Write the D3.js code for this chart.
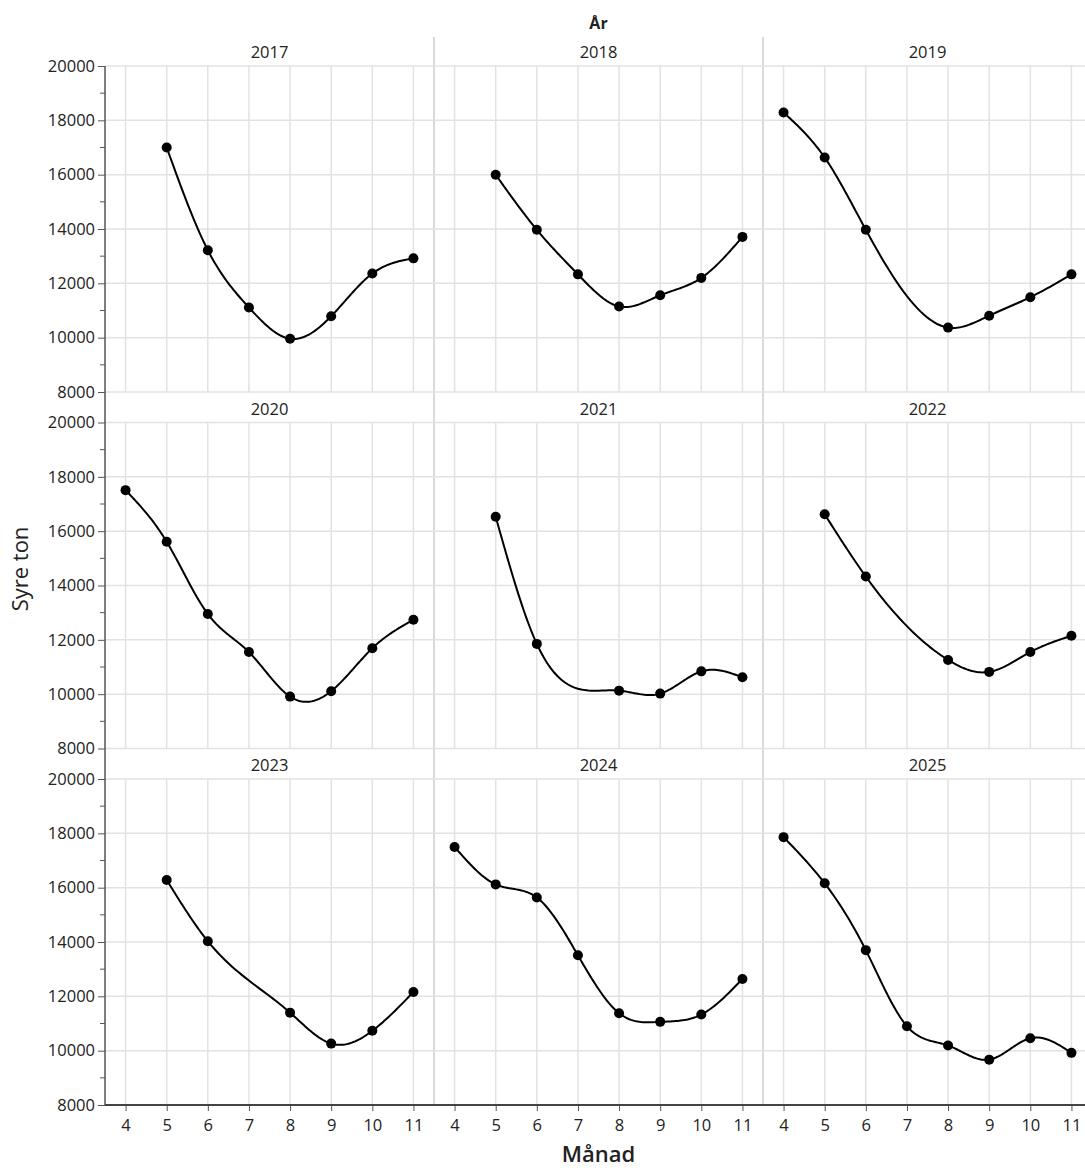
<!DOCTYPE html>
<html>
<head>
<meta charset="utf-8">
<script src="https://cdn.jsdelivr.net/npm/d3@7"></script>
<style>
  html, body { margin: 0; padding: 0; background: #fff; }
  svg { display: block; font-family: "Open Sans", "Noto Sans", sans-serif; }
</style>
</head>
<body>
<svg id="chart" width="1085" height="1171"></svg>
<script>
// ---- data (Syre ton per month, null = no value) ----
const years = [2017, 2018, 2019, 2020, 2021, 2022, 2023, 2024, 2025];
const months = [4, 5, 6, 7, 8, 9, 10, 11];
const yTicks = [8000, 10000, 12000, 14000, 16000, 18000, 20000];
const syre2017 = [null, 17000, 13220, 11110, 9960, 10790, 12360, 12920];
const syre2018 = [null, 16000, 13970, 12330, 11150, 11560, 12200, 13710];
const syre2019 = [18290, 16630, 13970, null, 10370, 10810, 11490, 12330];
const syre2020 = [17510, 15610, 12950, 11550, 9910, 10110, 11690, 12740];
const syre2021 = [null, 16530, 11850, null, 10130, 10020, 10840, 10620];
const syre2022 = [null, 16620, 14330, null, 11260, 10820, 11550, 12150];
const syre2023 = [null, 16280, 14030, null, 11400, 10260, 10730, 12160];
const syre2024 = [17500, 16120, 15640, 13510, 11380, 11060, 11330, 12640];
const syre2025 = [17860, 16160, 13700, 10900, 10190, 9670, 10460, 9920];
const seriesByYear = [syre2017, syre2018, syre2019, syre2020, syre2021, syre2022, syre2023, syre2024, syre2025];

// ---- layout ----
const svg = d3.select("#chart");
const colX = [105, 434, 763];
const panelW = 329;
const rowY = [66, 422.5, 779];
const panelH = 326;
const gridColor = "#e2e2e2";
const axisColor = "#555";

const x = d3.scaleLinear().domain([3.5, 11.5]).range([0, panelW]);
const y = d3.scaleLinear().domain([8000, 20000]).range([panelH, 0]);
const minorTicks = d3.range(9000, 20000, 2000);

// natural cubic spline in data space (x = month), sampled for drawing
function naturalSpline(pts, steps) {
  const n = pts.length;
  if (n < 3) return pts.slice();
  const xs = pts.map(d => d.m), ys = pts.map(d => d.v);
  const h = d3.range(n - 1).map(i => xs[i + 1] - xs[i]);
  const M = new Array(n).fill(0);
  const m = n - 2;
  const a = [], b = [], c = [], r = [];
  for (let i = 1; i <= m; i++) {
    a.push(h[i - 1]);
    b.push(2 * (h[i - 1] + h[i]));
    c.push(h[i]);
    r.push(6 * ((ys[i + 1] - ys[i]) / h[i] - (ys[i] - ys[i - 1]) / h[i - 1]));
  }
  const cp = [], dp = [];
  for (let i = 0; i < m; i++) {
    const den = b[i] - (i > 0 ? a[i] * cp[i - 1] : 0);
    cp[i] = c[i] / den;
    dp[i] = (r[i] - (i > 0 ? a[i] * dp[i - 1] : 0)) / den;
  }
  for (let i = m - 1; i >= 0; i--) {
    M[i + 1] = dp[i] - (i < m - 1 ? cp[i] * M[i + 2] : 0);
  }
  const out = [];
  for (let i = 0; i < n - 1; i++) {
    const hi = h[i];
    for (let s = 0; s < steps; s++) {
      const xv = xs[i] + hi * s / steps;
      const A = xs[i + 1] - xv, B = xv - xs[i];
      const v = M[i] * A * A * A / (6 * hi) + M[i + 1] * B * B * B / (6 * hi)
        + (ys[i] / hi - M[i] * hi / 6) * A + (ys[i + 1] / hi - M[i + 1] * hi / 6) * B;
      out.push({ m: xv, v });
    }
  }
  out.push(pts[n - 1]);
  return out;
}

const line = d3.line().x(d => x(d.m)).y(d => y(d.v));

// title
svg.append("text")
  .attr("x", (colX[0] + colX[2] + panelW) / 2).attr("y", 29)
  .attr("text-anchor", "middle")
  .attr("font-size", 16).attr("font-weight", 700).attr("fill", "#222")
  .text("År");

// vertical dividers between columns
[colX[1], colX[2]].forEach(cx => {
  svg.append("line")
    .attr("x1", cx).attr("x2", cx).attr("y1", 37).attr("y2", rowY[2] + panelH)
    .attr("stroke", "#d9d9d9").attr("stroke-width", 2);
});

years.forEach((yr, i) => {
  const r = Math.floor(i / 3), c = i % 3;
  const g = svg.append("g").attr("transform", `translate(${colX[c]},${rowY[r]})`);

  // grid
  g.append("g").selectAll("line").data(yTicks).join("line")
    .attr("x1", 0).attr("x2", panelW)
    .attr("y1", d => y(d)).attr("y2", d => y(d))
    .attr("stroke", gridColor).attr("stroke-width", 1.5);
  g.append("g").selectAll("line").data(months).join("line")
    .attr("x1", d => x(d)).attr("x2", d => x(d))
    .attr("y1", 0).attr("y2", panelH)
    .attr("stroke", gridColor).attr("stroke-width", 1.5);

  // strip label
  g.append("text")
    .attr("x", panelW / 2).attr("y", -8)
    .attr("text-anchor", "middle")
    .attr("font-size", 16.5).attr("fill", "#222")
    .text(yr);

  // data
  const pts = months.map((m, k) => ({ m, v: seriesByYear[i][k] })).filter(d => d.v != null);
  g.append("path").datum(naturalSpline(pts, 24))
    .attr("d", line).attr("fill", "none")
    .attr("stroke", "#000").attr("stroke-width", 2);
  g.append("g").selectAll("circle").data(pts).join("circle")
    .attr("cx", d => x(d.m)).attr("cy", d => y(d.v)).attr("r", 5)
    .attr("fill", "#000");

  // y axis on left column
  if (c === 0) {
    const ax = g.append("g").call(
      d3.axisLeft(y).tickValues(yTicks).tickSize(7).tickPadding(3).tickFormat(d3.format("d"))
    );
    ax.select(".domain").remove();
    ax.selectAll("line").attr("stroke", axisColor);
    ax.selectAll("text").attr("font-size", 16.5).attr("fill", "#222")
      .attr("font-family", "'Open Sans', sans-serif");
    g.append("g").selectAll("line").data(minorTicks).join("line")
      .attr("x1", -5).attr("x2", 0)
      .attr("y1", d => y(d)).attr("y2", d => y(d))
      .attr("stroke", axisColor);
  }

  // x axis on bottom row
  if (r === 2) {
    const ax = g.append("g").attr("transform", `translate(0,${panelH})`).call(
      d3.axisBottom(x).tickValues(months).tickSize(6).tickPadding(8).tickFormat(d3.format("d"))
    );
    ax.select(".domain").remove();
    ax.selectAll("line").attr("stroke", axisColor);
    ax.selectAll("text").attr("font-size", 16.5).attr("fill", "#222")
      .attr("font-family", "'Open Sans', sans-serif");
  }
});

// continuous axis lines
svg.append("line")
  .attr("x1", colX[0]).attr("x2", colX[0])
  .attr("y1", rowY[0]).attr("y2", rowY[2] + panelH)
  .attr("stroke", axisColor).attr("stroke-width", 1.5);
svg.append("line")
  .attr("x1", colX[0]).attr("x2", colX[2] + panelW)
  .attr("y1", rowY[2] + panelH).attr("y2", rowY[2] + panelH)
  .attr("stroke", "#444").attr("stroke-width", 2);

// axis titles
svg.append("text")
  .attr("x", (colX[0] + colX[2] + panelW) / 2).attr("y", 1162)
  .attr("text-anchor", "middle")
  .attr("font-size", 22).attr("font-weight", 600).attr("fill", "#222")
  .text("Månad");
svg.append("text")
  .attr("transform", "translate(28,569) rotate(-90)")
  .attr("text-anchor", "middle")
  .attr("font-size", 22).attr("fill", "#222")
  .text("Syre ton");
</script>
</body>
</html>
